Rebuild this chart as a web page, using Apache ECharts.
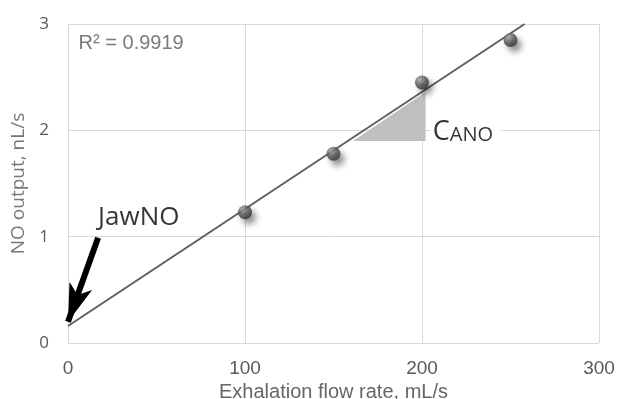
<!DOCTYPE html>
<html>
<head>
<meta charset="utf-8">
<script src="https://cdn.jsdelivr.net/npm/echarts@6/dist/echarts.min.js"></script>
<style>html,body{margin:0;padding:0;background:#fff}#c{width:621px;height:399px}</style>
</head>
<body>
<div id="c"></div>
<script>
var flowRates = [100, 150, 200, 250];
var noOutput = [1.23, 1.78, 2.45, 2.85];
var trendX = [0, 258];
var trendY = [0.16, 3.0];
var xTicks = [0, 100, 200, 300];
var yTicks = [0, 1, 2, 3];
var rSquaredText = 'R² = 0.9919';
var triangleX = [161, 202, 202];
var triangleY = [1.90, 1.90, 2.36];
var canoPos = [205, 2.0];
var jawnoPos = [40, 1.18];
var arrowFrom = [17, 0.99];
var arrowTo = [0, 0.2];
var rPos = [6, 2.82];

var chart = echarts.init(document.getElementById('c'), null, {renderer: 'canvas'});
var gridColor = '#d9d9d9';
var option = {
  animation: false,
  grid: {left: 68, right: 22, top: 24, bottom: 56, containLabel: false, outerBoundsMode: 'none'},
  xAxis: {
    type: 'value', min: xTicks[0], max: xTicks[xTicks.length - 1], interval: 100,
    axisLine: {show: false}, axisTick: {show: false},
    splitLine: {show: true, lineStyle: {color: gridColor, width: 1}},
    axisLabel: {color: '#595959', fontSize: 19, fontFamily: 'Liberation Sans, Arial', margin: 16},
    name: 'Exhalation flow rate, mL/s', nameLocation: 'middle', nameGap: 39,
    nameTextStyle: {color: '#666', fontSize: 20, fontFamily: 'Liberation Sans, Arial'}
  },
  yAxis: {
    type: 'value', min: yTicks[0], max: yTicks[yTicks.length - 1], interval: 1,
    axisLine: {show: false}, axisTick: {show: false},
    splitLine: {show: true, lineStyle: {color: gridColor, width: 1}},
    axisLabel: {color: '#595959', fontSize: 17, fontFamily: 'Open Sans', margin: 19},
    name: 'NO output, nL/s', nameLocation: 'middle', nameGap: 37,
    nameTextStyle: {color: '#777', fontSize: 19, fontFamily: 'Open Sans'}
  },
  series: [
    {
      type: 'custom',
      renderItem: function (params, api) {
        var pts = triangleX.map(function (x, i) { return api.coord([x, triangleY[i]]); });
        return {type: 'polygon', shape: {points: pts}, style: {fill: '#bfbfbf'}};
      },
      data: [0],
      z: 1
    },
    {
      type: 'line',
      data: trendX.map(function (x, i) { return [x, trendY[i]]; }),
      symbol: 'none',
      lineStyle: {color: '#5f5f5f', width: 2},
      z: 2,
      markLine: {
        silent: true,
        symbol: ['none', 'arrow'],
        symbolSize: [18, 38],
        lineStyle: {color: '#000', width: 6, type: 'solid'},
        label: {show: false},
        data: [[{coord: arrowFrom}, {coord: arrowTo}]]
      }
    },
    {
      type: 'scatter',
      data: flowRates.map(function (x, i) { return [x, noOutput[i]]; }),
      symbolSize: 14,
      itemStyle: {
        color: {type: 'radial', x: 0.35, y: 0.3, r: 0.75,
          colorStops: [{offset: 0, color: '#a0a0a0'}, {offset: 0.5, color: '#555'}, {offset: 1, color: '#2e2e2e'}]},
        shadowColor: 'rgba(0,0,0,0.55)', shadowBlur: 6, shadowOffsetX: 4, shadowOffsetY: 5
      },
      z: 5
    },
    {
      type: 'scatter',
      symbolSize: 0,
      silent: true,
      z: 6,
      data: [
        {value: canoPos, label: {show: true, position: 'right', distance: 0,
          formatter: '{c|C}{a|ANO}', backgroundColor: '#fff', padding: [2, 8, 2, 2],
          rich: {c: {fontSize: 27, color: '#000', fontFamily: 'Open Sans', lineHeight: 30, verticalAlign: 'bottom'},
                 a: {fontSize: 20, color: '#000', fontFamily: 'Open Sans', lineHeight: 30, verticalAlign: 'bottom'}}}},
        {value: jawnoPos, label: {show: true, position: 'inside', formatter: 'JawNO',
          fontSize: 26, color: '#000', fontFamily: 'Open Sans'}},
        {value: rPos, label: {show: true, position: 'right', distance: 0, formatter: rSquaredText,
          fontSize: 20, color: '#595959', fontFamily: 'Liberation Sans, Arial'}}
      ]
    }
  ]
};
chart.setOption(option);
</script>
</body>
</html>
